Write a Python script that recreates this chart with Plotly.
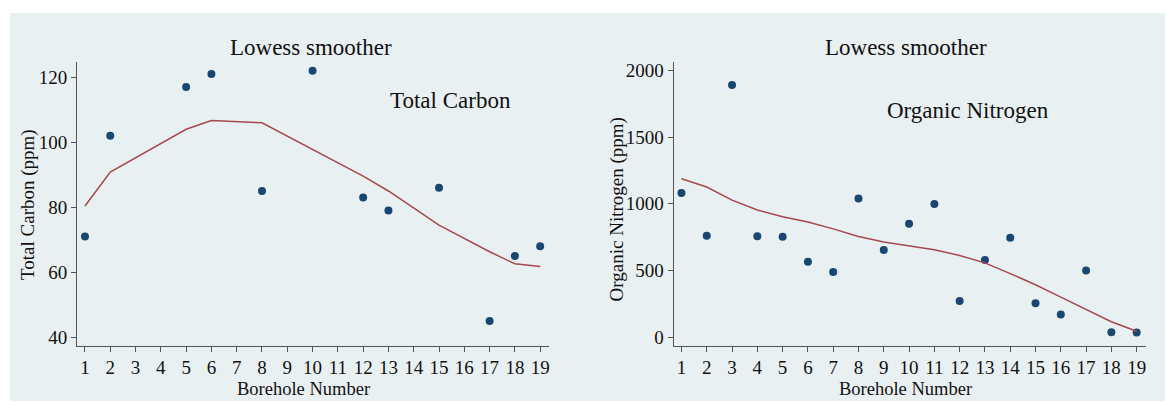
import plotly.graph_objects as go

W, H = 1166, 403

# Total Carbon panel
carbon_borehole = [1, 2, 5, 6, 8, 10, 12, 13, 15, 17, 18, 19]
carbon_ppm = [71, 102, 117, 121, 85, 122, 83, 79, 86, 45, 65, 68]
carbon_lowess = [80.4, 90.8, 104.0, 106.7, 106.0, 97.9, 89.6, 85.0, 74.5, 66.3, 62.6, 61.8]

# Organic Nitrogen panel
nitrogen_borehole = list(range(1, 20))
nitrogen_ppm = [1080, 760, 1890, 757, 752, 565, 488, 1040, 653, 850,
                998, 272, 579, 745, 255, 171, 500, 38, 35]
nitrogen_lowess = [1188, 1126, 1027, 953, 903, 864, 812, 755, 713, 685,
                   656, 613, 557, 477, 393, 301, 210, 116, 45]

x_ticks = list(range(1, 20))
carbon_yticks = [40, 60, 80, 100, 120]
nitrogen_yticks = [0, 500, 1000, 1500, 2000]

FONT = "Liberation Serif"
BG = "#e9f0f2"
GRID = "#e6eff1"
AXIS = "#555555"
NAVY = "#1a476f"
MAROON = "#a6484d"


def px_x(x):
    return x / W


def px_y(y):
    return 1 - y / H


fig = go.Figure()

fig.add_trace(go.Scatter(x=carbon_borehole, y=carbon_ppm, mode="markers",
                         marker=dict(color=NAVY, size=8), xaxis="x", yaxis="y",
                         showlegend=False))
fig.add_trace(go.Scatter(x=carbon_borehole, y=carbon_lowess, mode="lines",
                         line=dict(color=MAROON, width=1.5), xaxis="x", yaxis="y",
                         showlegend=False))
fig.add_trace(go.Scatter(x=nitrogen_borehole, y=nitrogen_ppm, mode="markers",
                         marker=dict(color=NAVY, size=8), xaxis="x2", yaxis="y2",
                         showlegend=False))
fig.add_trace(go.Scatter(x=nitrogen_borehole, y=nitrogen_lowess, mode="lines",
                         line=dict(color=MAROON, width=1.5), xaxis="x2", yaxis="y2",
                         showlegend=False))

ydom = [px_y(347), px_y(61)]
common_x = dict(tickmode="array", tickvals=x_ticks, ticks="outside", ticklen=5,
                tickcolor=AXIS, showline=True, linecolor=AXIS, linewidth=1.2,
                showgrid=False, zeroline=False,
                tickfont=dict(family=FONT, size=19, color="#111111"))
common_y = dict(ticks="outside", ticklen=5, tickcolor=AXIS, showline=True,
                linecolor=AXIS, linewidth=1.2, showgrid=True, gridcolor=GRID,
                gridwidth=1.5, zeroline=False, domain=ydom,
                tickfont=dict(family=FONT, size=19, color="#111111"))

fig.update_layout(
    width=W, height=H,
    margin=dict(l=0, r=0, t=0, b=0),
    paper_bgcolor="white",
    plot_bgcolor="white",
    xaxis=dict(domain=[px_x(77.2), px_x(549.5)], range=[0.69, 19.35],
               anchor="y", **common_x),
    yaxis=dict(range=[37.44, 124.57], tickvals=carbon_yticks, anchor="x",
               **common_y),
    xaxis2=dict(domain=[px_x(674.2), px_x(1146.5)], range=[0.69, 19.35],
                anchor="y2", **common_x),
    yaxis2=dict(range=[-62.4, 2059.4], tickvals=nitrogen_yticks, anchor="x2",
                **common_y),
)

# Tinted background region behind both panels
fig.add_shape(type="rect", xref="paper", yref="paper", layer="below",
              x0=px_x(10), x1=1, y0=0, y1=px_y(11),
              fillcolor=BG, line=dict(width=0))

texts = [
    dict(text="Lowess smoother", x=311, y=46, size=23, angle=0),
    dict(text="Lowess smoother", x=907, y=46, size=23, angle=0),
    dict(text="Total Carbon", x=451, y=99, size=23, angle=0),
    dict(text="Organic Nitrogen", x=969, y=110, size=23, angle=0),
    dict(text="Borehole Number", x=304, y=391, size=18.5, angle=0),
    dict(text="Borehole Number", x=906, y=391, size=18.5, angle=0),
    dict(text="Total Carbon (ppm)", x=28, y=204, size=19, angle=-90),
    dict(text="Organic Nitrogen (ppm)", x=617, y=209, size=19, angle=-90),
]
for t in texts:
    fig.add_annotation(text=t["text"], xref="paper", yref="paper",
                       x=px_x(t["x"]), y=px_y(t["y"]), xanchor="center",
                       yanchor="middle", showarrow=False, textangle=t["angle"],
                       font=dict(family=FONT, size=t["size"], color="#111111"))

fig.write_html("out.html")
